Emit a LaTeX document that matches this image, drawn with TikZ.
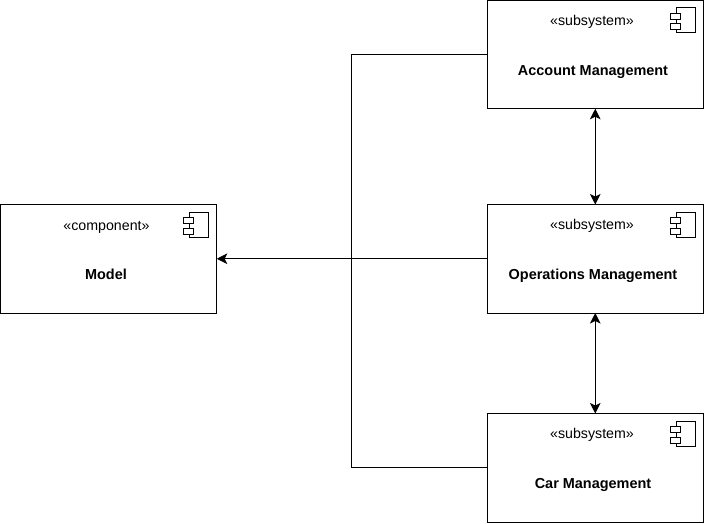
\documentclass[tikz,border=0pt]{standalone}
\usepackage{fontspec}
\setmainfont{Liberation Sans}
\usetikzlibrary{arrows.meta}
\tikzset{
  compbox/.style={draw=black,line width=1pt,fill=white,minimum width=216.5pt,minimum height=108.5pt,inner sep=0pt,outer sep=0pt},
  stereo/.style={inner sep=0pt,anchor=base,font=\fontsize{14.2}{16}\selectfont,text=black},
  title/.style={inner sep=0pt,anchor=base,font=\fontsize{14.45}{16}\selectfont\bfseries,text=black},
  iconpart/.style={draw=black,line width=1pt,fill=white},
  link/.style={draw=black,line width=1pt},
  tip/.style={-{Stealth[length=10.5pt,width=10.5pt,inset=2.5pt]}},
  biptip/.style={{Stealth[length=10.5pt,width=10.5pt,inset=2.5pt]}-{Stealth[length=10.5pt,width=10.5pt,inset=2.5pt]}}
}
\newcommand{\compicon}[2]{%
  \draw[iconpart] (#1+6,#2) rectangle (#1+25,#2+25);
  \draw[iconpart] (#1,#2+5.5) rectangle (#1+10,#2+11.5);
  \draw[iconpart] (#1,#2+16) rectangle (#1+10,#2+22);
}
\begin{document}
\begin{tikzpicture}[x=1pt,y=-1pt]
\useasboundingbox (0,0) rectangle (704,524);
\node[compbox] (model) at (108.5,258.75) {};
\node[compbox] (acct) at (595.25,54.5) {};
\node[compbox] (ops) at (595.25,258.75) {};
\node[compbox] (car) at (595.25,467.75) {};
\node[stereo] (s0) at (106.5,230) {«component»};
\node[title] (t0) at (106,279) {Model};
\node[stereo] (s1) at (592,25.5) {«subsystem»};
\node[title] (t1) at (593,75.75) {Account Management};
\node[stereo] (s2) at (592,229.5) {«subsystem»};
\node[title] (t2) at (593,279) {Operations Management};
\node[stereo] (s3) at (592,438.5) {«subsystem»};
\node[title] (t3) at (593,488) {Car Management};
\compicon{183.5}{212}
\compicon{670.5}{8}
\compicon{670.5}{212}
\compicon{670.5}{421}
\coordinate (junction) at (351.5,258.75);
\draw[link] (acct.west) -| (junction);
\draw[link] (car.west) -| (junction);
\draw[link,tip] (ops.west) -- (model.east);
\draw[link,biptip] (acct.south) -- (ops.north);
\draw[link,biptip] (ops.south) -- (car.north);
\end{tikzpicture}
\end{document}
